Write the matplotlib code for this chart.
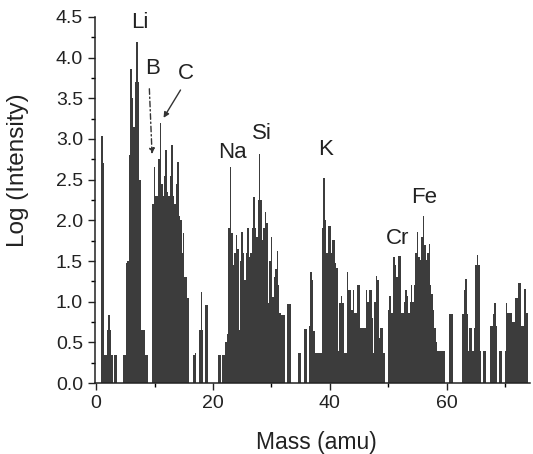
import matplotlib
matplotlib.use('Agg')
import matplotlib.pyplot as plt
import numpy as np

plt.rcParams['font.family'] = ['Liberation Sans', 'DejaVu Sans']

# log intensity, one row per amu, 4 samples per amu
# (mass m, m+0.25, m+0.5, m+0.75)
log_intensity = [
    [0.00, 0.00, 0.00, 0.00],  # 0
    [3.03, 2.70, 0.35, 0.35],  # 1  H
    [0.65, 0.84, 0.65, 0.35],  # 2
    [0.00, 0.35, 0.35, 0.00],  # 3
    [0.00, 0.00, 0.00, 0.35],  # 4
    [0.35, 1.47, 1.50, 2.80],  # 5
    [3.86, 3.50, 3.15, 3.70],  # 6  Li
    [4.19, 3.70, 2.50, 0.65],  # 7  Li
    [0.65, 0.65, 0.35, 0.35],  # 8
    [0.00, 0.00, 0.00, 2.20],  # 9
    [2.66, 2.30, 2.30, 2.75],  # 10 B
    [3.19, 2.45, 2.30, 2.55],  # 11 B
    [2.86, 2.35, 2.30, 2.55],  # 12 C
    [2.93, 2.30, 2.20, 2.45],  # 13
    [2.72, 2.05, 2.00, 1.60],  # 14
    [1.84, 1.30, 1.30, 1.05],  # 15
    [0.00, 0.00, 0.00, 0.35],  # 16
    [0.37, 0.00, 0.00, 0.65],  # 17
    [1.12, 0.65, 0.00, 0.96],  # 18
    [0.96, 0.00, 0.00, 0.00],  # 19
    [0.00, 0.00, 0.00, 0.00],  # 20
    [0.35, 0.35, 0.00, 0.35],  # 21
    [0.35, 0.50, 0.60, 1.90],  # 22
    [2.66, 1.85, 1.45, 1.60],  # 23 Na
    [1.82, 1.65, 0.65, 1.50],  # 24
    [1.86, 1.60, 1.27, 1.60],  # 25
    [1.90, 1.55, 1.60, 1.90],  # 26
    [2.29, 1.90, 1.80, 2.25],  # 27
    [2.82, 2.25, 1.76, 1.90],  # 28 Si
    [2.10, 1.97, 0.98, 1.50],  # 29
    [1.80, 1.06, 1.30, 1.40],  # 30
    [1.62, 1.20, 0.86, 0.84],  # 31
    [0.84, 0.84, 0.00, 0.97],  # 32
    [0.97, 0.97, 0.00, 0.00],  # 33
    [0.00, 0.00, 0.00, 0.37],  # 34
    [0.37, 0.00, 0.00, 0.66],  # 35
    [0.66, 0.00, 0.70, 1.37],  # 36
    [1.27, 0.64, 0.37, 0.37],  # 37
    [0.37, 0.37, 0.37, 1.90],  # 38
    [2.52, 2.00, 1.60, 1.93],  # 39 K
    [1.93, 1.60, 1.76, 1.76],  # 40
    [1.47, 1.41, 0.40, 0.98],  # 41
    [1.07, 0.98, 0.37, 0.37],  # 42
    [1.36, 1.14, 1.14, 0.90],  # 43
    [1.14, 0.86, 0.86, 1.20],  # 44
    [1.20, 0.68, 0.68, 0.68],  # 45
    [0.68, 1.14, 1.00, 1.14],  # 46
    [1.14, 0.80, 0.37, 1.00],  # 47
    [1.32, 1.27, 0.55, 0.68],  # 48
    [0.68, 0.37, 0.00, 0.00],  # 49
    [0.90, 1.07, 0.86, 0.86],  # 50
    [1.55, 1.45, 1.30, 1.56],  # 51 Cr
    [1.56, 0.86, 0.86, 1.00],  # 52
    [1.14, 1.07, 0.86, 1.00],  # 53
    [1.20, 1.00, 1.20, 1.60],  # 54
    [1.86, 1.55, 1.51, 1.80],  # 55
    [2.05, 1.70, 1.51, 1.60],  # 56 Fe
    [1.71, 1.20, 1.09, 0.90],  # 57
    [0.68, 0.50, 0.39, 0.39],  # 58
    [0.39, 0.39, 0.39, 0.00],  # 59
    [0.00, 0.00, 0.85, 0.85],  # 60
    [0.85, 0.00, 0.00, 0.00],  # 61
    [0.00, 0.00, 0.00, 0.85],  # 62
    [1.14, 1.28, 0.85, 0.40],  # 63
    [0.68, 0.68, 0.40, 0.68],  # 64
    [1.45, 1.57, 1.45, 0.39],  # 65
    [0.00, 0.39, 0.39, 0.00],  # 66
    [0.00, 0.00, 0.70, 0.70],  # 67
    [0.85, 0.98, 0.70, 0.00],  # 68
    [0.39, 0.39, 0.00, 0.00],  # 69
    [0.39, 0.98, 0.86, 0.86],  # 70
    [0.86, 0.75, 0.75, 1.05],  # 71
    [1.05, 1.23, 1.23, 0.70],  # 72
    [0.70, 1.16, 1.16, 0.86],  # 73
]
mass_step = 0.25

# element labels and where they sit (mass, log intensity)
elements = ['Li', 'B', 'C', 'Na', 'Si', 'K', 'Cr', 'Fe']
label_mass = [7.5, 9.6, 15.4, 23.4, 28.4, 39.2, 51.5, 56.1]
label_y = [4.43, 3.87, 3.80, 2.83, 3.07, 2.87, 1.78, 2.28]

y = np.ravel(log_intensity)
mass = np.arange(len(y)) * mass_step

fig = plt.figure(figsize=(5.33, 4.54), dpi=100)
ax = fig.add_axes([0.178, 0.156, 0.816, 0.807])

ax.bar(mass, y, width=mass_step, color='#3c3c3c', linewidth=0, align='center')

ax.set_xlim(-0.2, 74.2)
ax.set_ylim(0, 4.5)
ax.set_xticks([0, 20, 40, 60])
ax.set_xticks([10, 30, 50, 70], minor=True)
ax.set_yticks(np.arange(0, 4.51, 0.5))
ax.set_yticks(np.arange(0.25, 4.5, 0.5), minor=True)
ax.yaxis.set_major_formatter(matplotlib.ticker.FormatStrFormatter('%.1f'))
ax.tick_params(which='major', length=5, width=1, labelsize=14, colors='#222222')
ax.tick_params(which='minor', length=3, width=1)
for side in ['top', 'right']:
    ax.spines[side].set_visible(False)
for side in ['left', 'bottom']:
    ax.spines[side].set_linewidth(1.1)
    ax.spines[side].set_color('#222222')

ax.set_xlabel('Mass (amu)', fontsize=16.5, color='#222222')
ax.set_ylabel('Log (Intensity)', fontsize=17.5, color='#222222')
ax.xaxis.set_label_coords(0.51, -0.13)
ax.yaxis.set_label_coords(-0.152, 0.58)

for name, mx, my in zip(elements, label_mass, label_y):
    ax.text(mx, my, name, fontsize=16, ha='center', va='center', color='#222222')

# arrows for B and C
ax.annotate('', xy=(9.6, 2.78), xytext=(9.1, 3.65),
            arrowprops=dict(arrowstyle='-|>', color='#333333', lw=1.0,
                            linestyle=(0, (4, 2, 1, 2)), mutation_scale=8))
ax.annotate('', xy=(11.3, 3.23), xytext=(14.7, 3.63),
            arrowprops=dict(arrowstyle='-|>', color='#333333', lw=1.0, mutation_scale=8))

plt.savefig('out.png', dpi=100)
